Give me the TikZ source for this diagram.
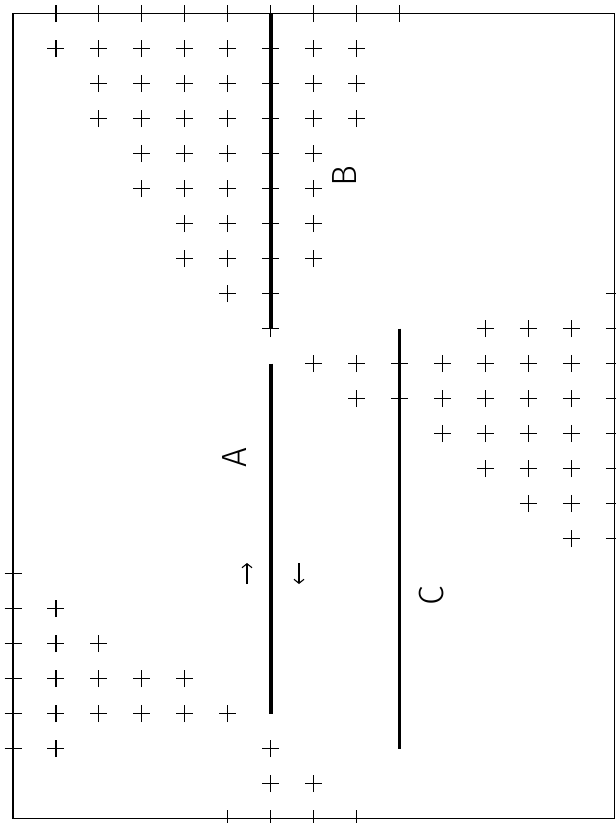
\documentclass[tikz,border=0pt]{standalone}
\usepackage{fontspec}
\newfontfamily\lblfont{Fira Sans}[UprightFont={* Light}]
\usetikzlibrary{arrows.meta}
\tikzset{
  frameline/.style={line width=1.6pt},
  wall/.style={line width=3.6pt, line cap=butt},
  crossline/.style={line width=1.1pt},
  gridcross/.pic={\draw[crossline] (-8.5pt,0)--(8.5pt,0) (0,-8.5pt)--(0,8.5pt);},
  lbl/.style={font=\lblfont\fontsize{35}{40}\selectfont, rotate=90, inner sep=0pt},
  flow/.style={line width=1.1pt, -{Straight Barb[length=4pt,width=10pt]}}
}
\begin{document}
\begin{tikzpicture}
\useasboundingbox (0,0) rectangle (616pt,-823pt);
\begin{scope}[x=42.95pt,y=-35pt,shift={(13pt,-13.5pt)}]
  \draw[frameline] (0,0) rectangle (14,23);
  \coordinate (Btop) at (6,0);  \coordinate (Bbot) at (6,9);
  \coordinate (Atop) at (6,10); \coordinate (Abot) at (6,20);
  \coordinate (Ctop) at (9,9);  \coordinate (Cbot) at (9,21);
  \draw[wall] (Btop) -- (Bbot);
  \draw[wall] (Atop) -- (Abot);
  \draw[wall] (Ctop) -- (Cbot);
  \foreach \j/\is in {
    0/{1,2,3,4,5,6,7,8,9},
    1/{1,2,3,4,5,6,7,8},
    2/{2,3,4,5,6,7,8},
    3/{2,3,4,5,6,7,8},
    4/{3,4,5,6,7},
    5/{3,4,5,6,7},
    6/{4,5,6,7},
    7/{4,5,6,7},
    8/{5,6,14},
    9/{6,11,12,13,14},
    10/{7,8,9,10,11,12,13,14},
    11/{8,9,10,11,12,13,14},
    12/{10,11,12,13,14},
    13/{11,12,13,14},
    14/{12,13,14},
    15/{13,14},
    16/{0},
    17/{0,1},
    18/{0,1,2},
    19/{0,1,2,3,4},
    20/{0,1,2,3,4,5},
    21/{0,1,6},
    22/{6,7},
    23/{5,6,7,8}}{
    \foreach \i in \is { \pic at (\i,\j) {gridcross}; }
  }
\end{scope}
\node[lbl] (labA) at (235pt,-458pt) {A};
\node[lbl] (labB) at (345pt,-176pt) {B};
\node[lbl] (labC) at (432pt,-596pt) {C};
\coordinate (upS) at (247pt,-584pt); \coordinate (upE) at (247pt,-563pt);
\coordinate (dnS) at (299pt,-563pt); \coordinate (dnE) at (299pt,-584pt);
\draw[flow] (upS) -- (upE);
\draw[flow] (dnS) -- (dnE);
\end{tikzpicture}
\end{document}
